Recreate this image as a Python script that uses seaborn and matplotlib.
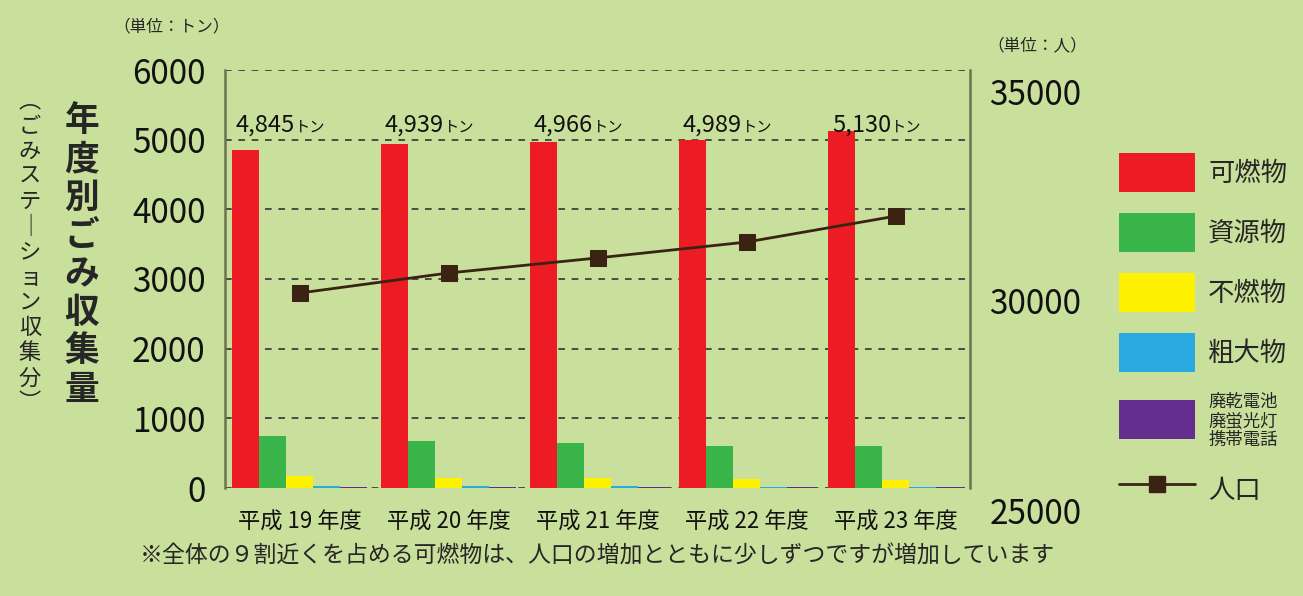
import numpy as np
import pandas as pd
import matplotlib
matplotlib.use("Agg")
import matplotlib.pyplot as plt
from matplotlib.lines import Line2D
from matplotlib.patches import Patch
import seaborn as sns

# data
years = ["平成 19 年度", "平成 20 年度", "平成 21 年度", "平成 22 年度", "平成 23 年度"]
kanen = [4845, 4939, 4966, 4989, 5130]      # 可燃物
shigen = [740, 680, 650, 610, 600]          # 資源物
funen = [170, 150, 140, 130, 120]           # 不燃物
sodai = [25, 22, 22, 20, 20]                # 粗大物
yugai = [12, 12, 11, 11, 10]                # 廃乾電池 etc
population = [30190, 30670, 31030, 31410, 32030]
total_labels = ["4,845", "4,939", "4,966", "4,989", "5,130"]

types = ["可燃物", "資源物", "不燃物", "粗大物", "廃乾電池\n廃蛍光灯\n携帯電話"]
colors = ["#ed1c24", "#39b54a", "#fff200", "#29abe2", "#662d91"]

rows = []
for t, vals in zip(types, [kanen, shigen, funen, sodai, yugai]):
    for y, v in zip(years, vals):
        rows.append({"year": y, "type": t, "tons": v})
df = pd.DataFrame(rows)

sns.set_theme(style="white")
plt.rcParams['font.family'] = ['Noto Sans CJK JP', 'DejaVu Sans']

bg = "#c9e09c"
W, H = 1303, 596
fig = plt.figure(figsize=(W / 100, H / 100), dpi=100, facecolor=bg)

def px(x0, y0, x1, y1):
    return [x0 / W, 1 - y1 / H, (x1 - x0) / W, (y1 - y0) / H]

ax = fig.add_axes(px(225, 70, 970, 488))
ax.set_facecolor("none")
sns.barplot(data=df, x="year", y="tons", hue="type", palette=colors,
            width=0.9, dodge=True, legend=False, ax=ax,
            edgecolor="none", saturation=1)
ax.set_ylim(0, 6000)
ax.set_xlim(-0.5, 4.5)
ax.set_yticks(range(0, 6001, 1000))
ax.set_xlabel("")
ax.set_ylabel("")
for v in range(0, 6001, 1000):
    ax.axhline(v, color="#333333", lw=1.2, ls=(0, (4, 4)), zorder=0)
for s in ["top", "bottom"]:
    ax.spines[s].set_visible(False)
for s in ["left", "right"]:
    ax.spines[s].set_color("#6a7450")
    ax.spines[s].set_linewidth(1.8)
ax.tick_params(axis="y", labelsize=24, pad=14, length=0, colors="#111111")
ax.tick_params(axis="x", labelsize=16, pad=16, length=0, colors="#111111")

for i, lab in enumerate(total_labels):
    ax.text(i - 0.03, 5110, lab, ha="right", va="baseline", fontsize=17, color="#111111")
    ax.text(i - 0.03, 5110, "トン", ha="left", va="baseline", fontsize=11, color="#111111")

# population on the right axis
ax2 = fig.add_axes(px(225, 92, 970, 510), sharex=ax)
ax2.set_facecolor("none")
sns.lineplot(x=np.arange(len(years)), y=population, ax=ax2, color="#3b2314",
             lw=2, marker="s", markersize=12, markeredgecolor="#3b2314")
ax2.set_ylim(25000, 35000)
ax2.set_yticks([25000, 30000, 35000])
ax2.yaxis.tick_right()
for s in ax2.spines.values():
    s.set_visible(False)
ax2.tick_params(axis="y", labelsize=24, pad=14, length=0, colors="#111111")
ax2.tick_params(axis="x", bottom=False, labelbottom=False)

fig.text(172 / W, 1 - 27 / H, "（単位：トン）", ha="center", va="center", fontsize=12)
fig.text(1037 / W, 1 - 46 / H, "（単位：人）", ha="center", va="center", fontsize=12)

fig.text(82 / W, 1 - 255 / H, "\n".join("年度別ごみ収集量"), ha="center", va="center",
         fontsize=25, fontweight="bold", linespacing=1.12)
fig.text(30 / W, 1 - 252 / H, "\n".join("︵ごみステ｜ション収集分︶"), ha="center", va="center",
         fontsize=16, linespacing=1.12)

fig.text(140 / W, 1 - 556 / H, "※全体の９割近くを占める可燃物は、人口の増加とともに少しずつですが増加しています",
         ha="left", va="center", fontsize=16.5)

handles = [Patch(facecolor=c, edgecolor="none") for c in colors]
handles.append(Line2D([], [], color="#3b2314", lw=2, marker="s", markersize=12))
leg = fig.legend(handles, types + ["人口"], loc="upper left",
                 bbox_to_anchor=(1108 / W, 1 - 142 / H), frameon=False,
                 fontsize=19, handlelength=2.9, handleheight=1.9,
                 labelspacing=0.8, handletextpad=0.5, borderaxespad=0)
leg.get_texts()[4].set_fontsize(12.5)
leg.get_texts()[4].set_linespacing(1.05)

fig.savefig("out.png", dpi=100, facecolor=bg)
